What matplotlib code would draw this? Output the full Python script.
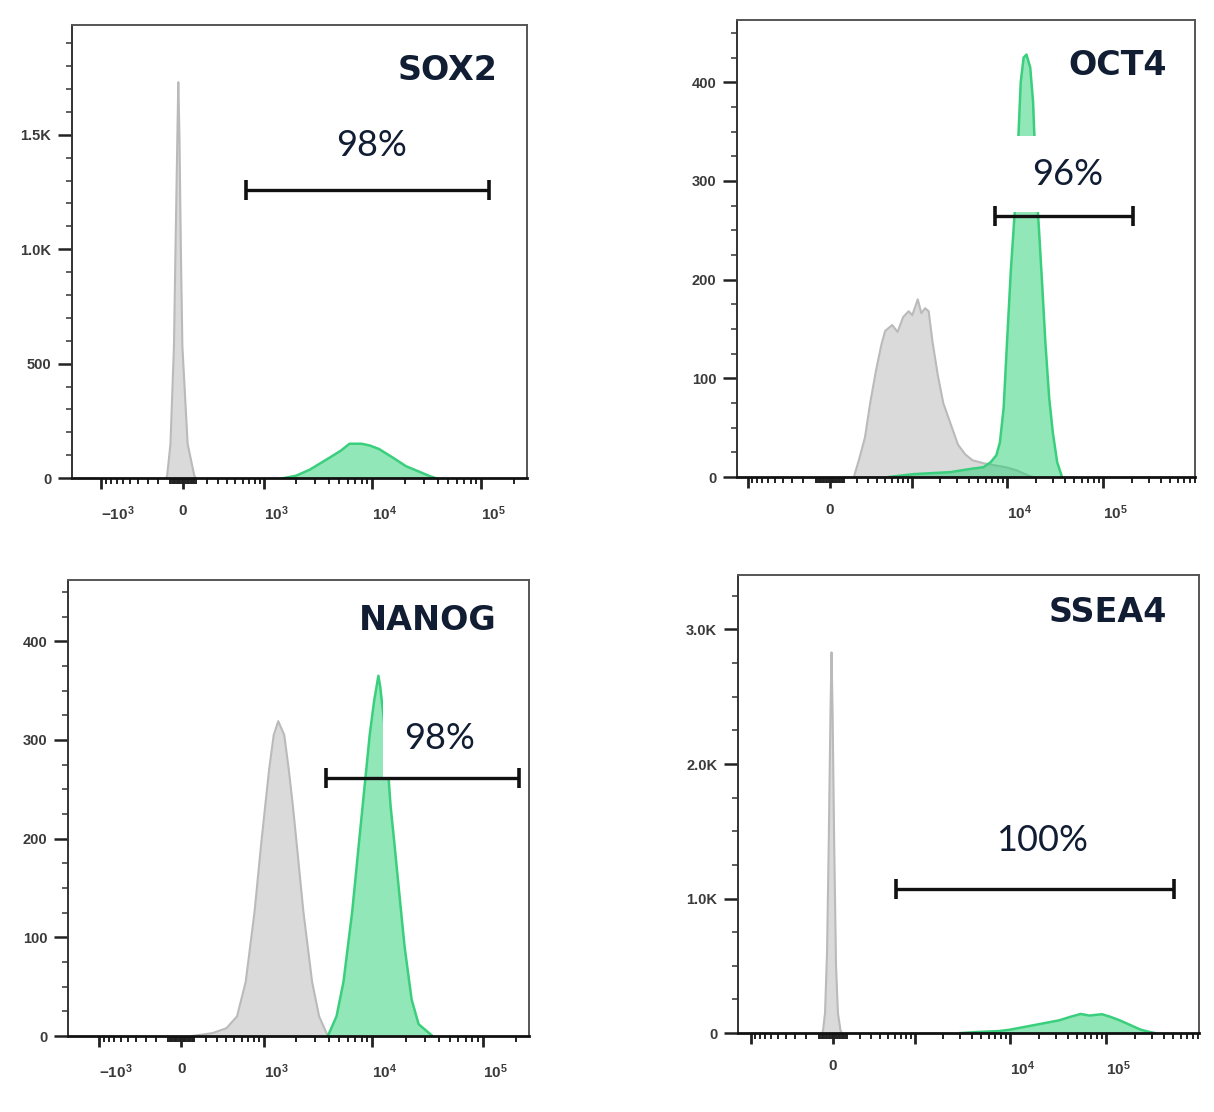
import matplotlib
matplotlib.use("Agg")
import matplotlib.pyplot as plt
from matplotlib.ticker import FixedLocator, NullFormatter

plt.rcParams['font.family'] = ['Liberation Sans', 'DejaVu Sans']
plt.rcParams['mathtext.fontset'] = 'custom'
plt.rcParams['mathtext.rm'] = 'Liberation Sans:bold'
plt.rcParams['mathtext.it'] = 'Liberation Sans:bold'
plt.rcParams['mathtext.bf'] = 'Liberation Sans:bold'
plt.rcParams['mathtext.default'] = 'rm'

# ---------------- data ----------------
markers = ["SOX2", "OCT4", "NANOG", "SSEA4"]
gate_pct = ["98%", "96%", "98%", "100%"]

# SOX2
sox2_ctrl_x = [-133, -125, -98, -70, -58, -43, -36, -27, -16, -4, 37, 90, 101]
sox2_ctrl_y = [0, 10, 150, 577, 1000, 1500, 1730, 1500, 1000, 577, 150, 10, 0]
sox2_stain_x = [1536, 1991, 2683, 3850, 5180, 6200, 8000, 9550, 11560, 15400, 20400, 26300, 33900, 38100]
sox2_stain_y = [0, 10, 37, 82, 120, 150, 150, 142, 127, 90, 52, 30, 8, 0]
sox2_gate = [651, 117700]
sox2_gate_y = 1260
sox2_label_xy = [9800, 1455]

# OCT4
oct4_ctrl_x = [173, 219, 269, 321, 382, 449, 499, 604, 696, 802, 923, 1011, 1158, 1264, 1386,
               1513, 1656, 1891, 2158, 2574, 3071, 3659, 4362, 5683, 7376, 9615, 12456, 16244, 18540]
oct4_ctrl_y = [0, 19, 40, 75, 107, 134, 148, 154, 147, 162, 168, 164, 180, 166, 171,
               168, 138, 103, 75, 54, 33, 23, 17, 14, 12, 10, 7, 2, 0]
oct4_stain_x = [546, 1057, 1656, 2574, 4000, 5683, 6740, 7730, 8420, 9210, 10030, 10960, 11950, 12456,
                13060, 13870, 14870, 15930, 17420, 18660, 19350, 20400, 21520, 23050, 25110, 27460,
                29960, 33270, 37340]
oct4_stain_y = [0, 3, 4, 5, 8, 10, 15, 22, 35, 70, 140, 210, 265, 285,
                340, 400, 425, 428, 415, 380, 340, 285, 250, 200, 135, 80,
                45, 15, 0]
oct4_gate = [7500, 205400]
oct4_gate_y = 264
oct4_label_xy = [43200, 307]

# NANOG
nanog_ctrl_x = [81, 260, 404, 535, 662, 814, 953, 1128, 1247, 1376, 1566, 1725, 1883, 2028, 2353, 2827, 3275, 3933]
nanog_ctrl_y = [0, 3, 8, 20, 55, 126, 198, 270, 305, 319, 305, 270, 233, 198, 126, 55, 20, 0]
nanog_stain_x = [3933, 4720, 5460, 6550, 7580, 8770, 9440, 10370, 11320, 11760, 12650, 13580, 14600,
                 15720, 16900, 19540, 22650, 26220, 35070]
nanog_stain_y = [0, 20, 55, 126, 198, 269, 305, 340, 365, 354, 322, 283, 233,
                 198, 162, 91, 37, 12, 0]
nanog_gate = [3790, 212000]
nanog_gate_y = 261
nanog_label_xy = [41000, 301]

# SSEA4
ssea4_ctrl_x = [-76, -69, -55, -41, -29, -17, -10, -3, 8, 21, 34, 52, 62]
ssea4_ctrl_y = [0, 20, 150, 600, 1430, 2400, 2830, 2400, 1430, 500, 150, 20, 0]
ssea4_stain_x = [3054, 4664, 7750, 10010, 12900, 18140, 25430, 32800, 42300, 54530, 67360, 90690,
                 111900, 138600, 178800, 230200, 284400, 322900]
ssea4_stain_y = [0, 8, 15, 25, 40, 60, 80, 95, 120, 142, 130, 140,
                 120, 95, 60, 25, 8, 0]
ssea4_gate = [617, 515000]
ssea4_gate_y = 1074
ssea4_label_xy = [21440, 1428]

# axis ticks
x_major_a = [-1000, 0, 1000, 10000, 100000]
x_labels_a = ["$-10^{3}$", "0", "$10^{3}$", "$10^{4}$", "$10^{5}$"]
x_labels_b = ["", "0", "", "$10^{4}$", "$10^{5}$"]
x_minor_a = ([-900, -800, -700, -600, -500, -400, -300, -200, -100,
              -90, -80, -70, -60, -50, -40, -30, -20, -10,
              10, 20, 30, 40, 50, 60, 70, 80, 90,
              100, 200, 300, 400, 500, 600, 700, 800, 900,
              2000, 3000, 4000, 5000, 6000, 7000, 8000, 9000,
              20000, 30000, 40000, 50000, 60000, 70000, 80000, 90000, 200000])
x_minor_b = x_minor_a + [300000, 400000, 500000, 600000, 700000, 800000, 900000]

sox2_y_major = [0, 500, 1000, 1500]
sox2_y_labels = ["0", "500", "1.0K", "1.5K"]
sox2_y_minor = list(range(100, 2000, 100))
oct4_y_major = [0, 100, 200, 300, 400]
oct4_y_labels = ["0", "100", "200", "300", "400"]
oct4_y_minor = list(range(25, 475, 25))
nanog_y_major = [0, 100, 200, 300, 400]
nanog_y_labels = ["0", "100", "200", "300", "400"]
nanog_y_minor = list(range(25, 475, 25))
ssea4_y_major = [0, 1000, 2000, 3000]
ssea4_y_labels = ["0", "1.0K", "2.0K", "3.0K"]
ssea4_y_minor = list(range(250, 3500, 250))

# ---------------- styling ----------------
GRAY_FILL = '#dadada'
GRAY_EDGE = '#bababa'
GREEN_FILL = '#2fd27a'
GREEN_EDGE = '#3acf7c'
NAVY = '#111d33'
TICK_C = '#3a3a3a'

fig = plt.figure(figsize=(12.14, 11.12), dpi=100)
fig.patch.set_facecolor('white')

panels = [
    dict(name=markers[0], pct=gate_pct[0], pos=[0.0593, 0.5701, 0.3748, 0.4074],
         w=370, xlim=(-1900, 262144), ylim=(0, 1980),
         cx=sox2_ctrl_x, cy=sox2_ctrl_y, sx=sox2_stain_x, sy=sox2_stain_y,
         gate=sox2_gate, gy=sox2_gate_y, lab=sox2_label_xy,
         xmaj=x_major_a, xlab=x_labels_a, xmin=x_minor_a,
         ymaj=sox2_y_major, ylab=sox2_y_labels, ymin=sox2_y_minor,
         title_xy=(0.935, 0.90)),
    dict(name=markers[1], pct=gate_pct[1], pos=[0.6071, 0.5710, 0.3773, 0.4110],
         w=287, xlim=(-1320, 907000), ylim=(0, 463),
         cx=oct4_ctrl_x, cy=oct4_ctrl_y, sx=oct4_stain_x, sy=oct4_stain_y,
         gate=oct4_gate, gy=oct4_gate_y, lab=oct4_label_xy,
         xmaj=x_major_a, xlab=x_labels_b, xmin=x_minor_b,
         ymaj=oct4_y_major, ylab=oct4_y_labels, ymin=oct4_y_minor,
         title_xy=(0.939, 0.90)),
    dict(name=markers[2], pct=gate_pct[2], pos=[0.0560, 0.0683, 0.3797, 0.4101],
         w=370, xlim=(-1950, 262144), ylim=(0, 462),
         cx=nanog_ctrl_x, cy=nanog_ctrl_y, sx=nanog_stain_x, sy=nanog_stain_y,
         gate=nanog_gate, gy=nanog_gate_y, lab=nanog_label_xy,
         xmaj=x_major_a, xlab=x_labels_a, xmin=x_minor_a,
         ymaj=nanog_y_major, ylab=nanog_y_labels, ymin=nanog_y_minor,
         title_xy=(0.93, 0.912)),
    dict(name=markers[3], pct=gate_pct[3], pos=[0.6079, 0.0710, 0.3797, 0.4119],
         w=287, xlim=(-1386, 931000), ylim=(0, 3405),
         cx=ssea4_ctrl_x, cy=ssea4_ctrl_y, sx=ssea4_stain_x, sy=ssea4_stain_y,
         gate=ssea4_gate, gy=ssea4_gate_y, lab=ssea4_label_xy,
         xmaj=x_major_a, xlab=x_labels_b, xmin=x_minor_b,
         ymaj=ssea4_y_major, ylab=ssea4_y_labels, ymin=ssea4_y_minor,
         title_xy=(0.93, 0.919)),
]

for p in panels:
    ax = fig.add_axes(p['pos'])
    ax.set_xscale('asinh', linear_width=p['w'])
    ax.set_xlim(*p['xlim'])
    ax.set_ylim(*p['ylim'])

    # histograms
    ax.fill_between(p['cx'], p['cy'], 0, color=GRAY_FILL, lw=0, zorder=2)
    ax.plot(p['cx'], p['cy'], color=GRAY_EDGE, lw=1.5, zorder=2.1)
    ax.fill_between(p['sx'], p['sy'], 0, color=GREEN_FILL, alpha=0.52, lw=0, zorder=2.2)
    ax.plot(p['sx'], p['sy'], color=GREEN_EDGE, lw=1.8, zorder=2.3)

    # gate label (white box) and gate bar
    ax.text(p['lab'][0], p['lab'][1], p['pct'], ha='center', va='center',
            fontsize=26, family=['Lato', 'DejaVu Sans'], fontweight='normal', color=NAVY,
            bbox=dict(boxstyle='square,pad=0.6', fc='white', ec='none'), zorder=3)
    ax.plot(p['gate'], [p['gy'], p['gy']], color='#111111', lw=2.4,
            marker='|', ms=15, mew=2.6, solid_capstyle='butt', zorder=4)

    # title
    ax.text(p['title_xy'][0], p['title_xy'][1], p['name'], transform=ax.transAxes,
            ha='right', va='center', fontsize=24, fontweight='bold',
            family='DejaVu Sans', color=NAVY, zorder=5)

    # ticks
    ax.set_xticks(p['xmaj'], labels=p['xlab'])
    ax.xaxis.set_minor_locator(FixedLocator(p['xmin']))
    ax.xaxis.set_minor_formatter(NullFormatter())
    ax.set_yticks(p['ymaj'], labels=p['ylab'])
    ax.yaxis.set_minor_locator(FixedLocator(p['ymin']))
    ax.yaxis.set_minor_formatter(NullFormatter())

    ax.tick_params(axis='x', which='major', direction='out', length=8, width=2.0,
                   color='#222222', pad=11, labelsize=11, labelcolor=TICK_C)
    ax.tick_params(axis='x', which='minor', direction='out', length=4.5, width=1.4,
                   color='#222222')
    ax.tick_params(axis='y', which='major', direction='out', length=10, width=1.8,
                   color='#222222', pad=5, labelsize=10.5, labelcolor=TICK_C)
    ax.tick_params(axis='y', which='minor', direction='out', length=4, width=1.1,
                   color='#333333')
    for lbl in ax.get_xticklabels():
        if lbl.get_text().startswith('$'):
            lbl.set_horizontalalignment('left')
        lbl.set_fontweight('bold')
    for lbl in ax.get_yticklabels():
        lbl.set_fontweight('bold')

    for side in ['top', 'right']:
        ax.spines[side].set_color('#555555')
        ax.spines[side].set_linewidth(1.4)
    ax.spines['left'].set_color('#333333')
    ax.spines['left'].set_linewidth(1.4)
    ax.spines['bottom'].set_color('#111111')
    ax.spines['bottom'].set_linewidth(2.0)

fig.savefig('out.png', dpi=100, facecolor='white')
